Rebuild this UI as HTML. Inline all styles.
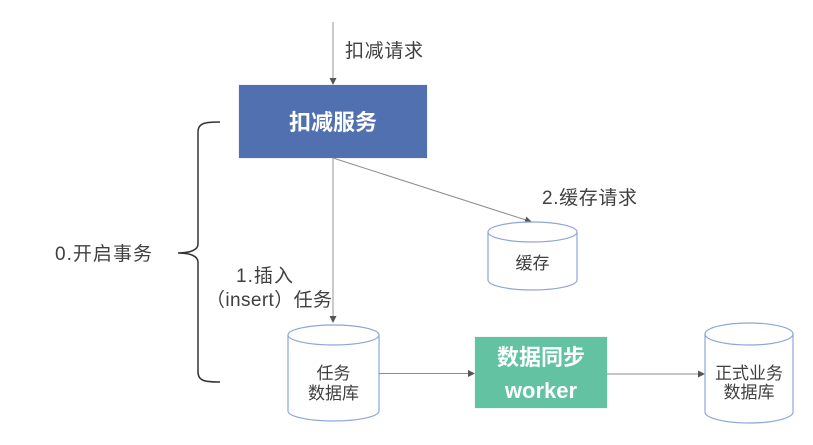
<!DOCTYPE html>
<html>
<head>
<meta charset="utf-8">
<style>
  html, body { margin: 0; padding: 0; background: #ffffff; }
  body { width: 813px; height: 445px; overflow: hidden; position: relative; }
  svg { position: absolute; left: 0; top: 0; }
  text { font-family: "Liberation Sans", "Noto Sans CJK SC", sans-serif; }
</style>
</head>
<body>
<svg width="813" height="445" viewBox="0 0 813 445" xmlns="http://www.w3.org/2000/svg">
  <rect x="0" y="0" width="813" height="445" fill="#ffffff"/>

  <!-- top incoming arrow -->
  <line x1="333" y1="22" x2="333" y2="79" stroke="#a6a6a6" stroke-width="1.2"/>
  <polygon points="333,85 329.5,78 336.5,78" fill="#555555"/>
  <text x="345" y="57" font-size="19" fill="#404040" textLength="78" lengthAdjust="spacing">扣减请求</text>

  <!-- blue service box -->
  <rect x="238.5" y="84.5" width="189" height="74" fill="#dfe6f5"/>
  <rect x="239" y="85" width="188" height="73" fill="#5070AF"/>
  <text x="333" y="130" font-size="22" font-weight="bold" fill="#ffffff" text-anchor="middle">扣减服务</text>

  <!-- vertical arrow to task db -->
  <line x1="333" y1="158" x2="333" y2="317" stroke="#a6a6a6" stroke-width="1.2"/>
  <polygon points="333,323 329.5,316 336.5,316" fill="#555555"/>

  <!-- diagonal arrow to cache -->
  <line x1="333" y1="158" x2="526" y2="220" stroke="#8c8c8c" stroke-width="1"/>
  <polygon points="532,222 524.2,223.2 526.4,216.6" fill="#555555"/>
  <text x="542" y="204" font-size="19" fill="#404040" textLength="95" lengthAdjust="spacing">2.缓存请求</text>

  <!-- brace -->
  <path d="M220,122 C205,122 198,123 198,132 L198,244 C198,250 190,253 178,253 C190,253 198,256 198,262 L198,372 C198,381 205,382 220,382"
        fill="none" stroke="#333333" stroke-width="1.5"/>
  <text x="55" y="260" font-size="19" fill="#404040" textLength="97" lengthAdjust="spacing">0.开启事务</text>

  <text x="236" y="282" font-size="19" fill="#404040" textLength="57" lengthAdjust="spacing">1.插入</text>
  <text x="206" y="306" font-size="19" fill="#404040" textLength="126" lengthAdjust="spacing">（insert）任务</text>

  <!-- cache cylinder -->
  <path d="M488,232 L488,280 A44.5,10 0 0 0 577,280 L577,232" fill="#ffffff" stroke="#8fa5d8" stroke-width="1.2"/>
  <ellipse cx="532.5" cy="232" rx="44.5" ry="10" fill="#ffffff" stroke="#8fa5d8" stroke-width="1.2"/>
  <text x="532.5" y="269" font-size="17" fill="#404040" text-anchor="middle">缓存</text>

  <!-- task db cylinder -->
  <path d="M288,335 L288,411 A45.5,10 0 0 0 379,411 L379,335" fill="#ffffff" stroke="#8fa5d8" stroke-width="1.2"/>
  <ellipse cx="333.5" cy="335" rx="45.5" ry="10" fill="#ffffff" stroke="#8fa5d8" stroke-width="1.2"/>
  <text x="333.5" y="379" font-size="17" fill="#404040" text-anchor="middle">任务</text>
  <text x="333.5" y="399" font-size="17" fill="#404040" text-anchor="middle">数据库</text>

  <!-- arrow task db -> worker -->
  <line x1="379" y1="373.5" x2="469" y2="373.5" stroke="#8c8c8c" stroke-width="1"/>
  <polygon points="475,373.5 468,370 468,377" fill="#555555"/>

  <!-- green worker box -->
  <rect x="474.5" y="336.5" width="133" height="72" fill="#dff2ea"/>
  <rect x="475" y="337" width="132" height="71" fill="#62C2A2"/>
  <text x="541" y="365" font-size="22" font-weight="bold" fill="#ffffff" text-anchor="middle">数据同步</text>
  <text x="541" y="398" font-size="22" font-weight="bold" fill="#ffffff" text-anchor="middle">worker</text>

  <!-- arrow worker -> formal db -->
  <line x1="607" y1="374" x2="699" y2="374" stroke="#8c8c8c" stroke-width="1"/>
  <polygon points="705,374 698,370.5 698,377.5" fill="#555555"/>

  <!-- formal db cylinder -->
  <path d="M705,334 L705,412 A44,11 0 0 0 793,412 L793,334" fill="#ffffff" stroke="#8fa5d8" stroke-width="1.2"/>
  <ellipse cx="749" cy="334" rx="44" ry="11" fill="#ffffff" stroke="#8fa5d8" stroke-width="1.2"/>
  <text x="749" y="379" font-size="17" fill="#404040" text-anchor="middle">正式业务</text>
  <text x="749" y="398" font-size="17" fill="#404040" text-anchor="middle">数据库</text>
</svg>
</body>
</html>
